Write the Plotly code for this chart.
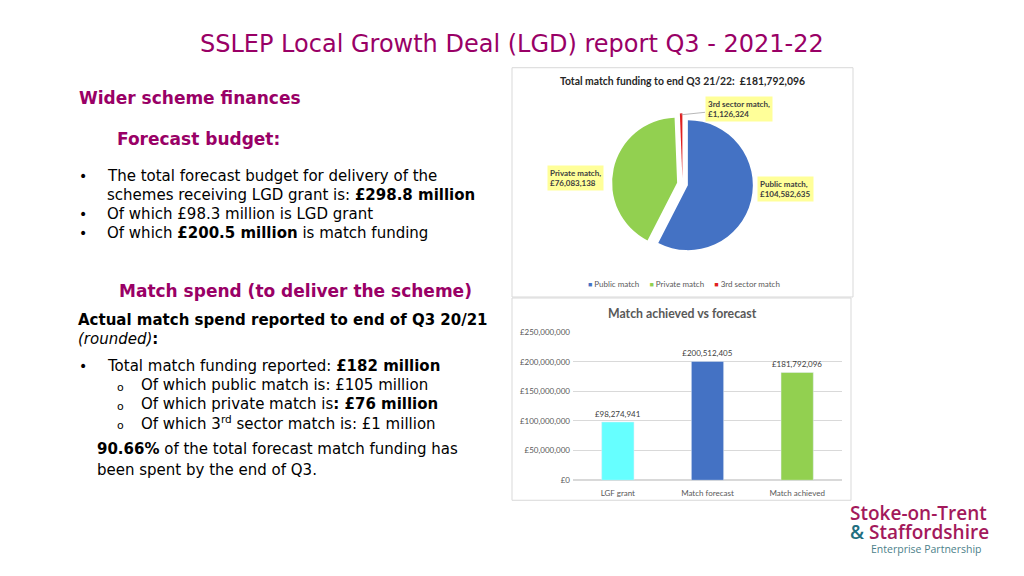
import plotly.graph_objects as go

# pie: match funding split
pie_labels = ["Public match", "Private match", "3rd sector match"]
pie_values = [104582635, 76083138, 1126324]
pie_colors = ["#4472C4", "#92D050", "#E02020"]

# bar: match achieved vs forecast
bar_cats = ["LGF grant", "Match forecast", "Match achieved"]
bar_values = [98274941, 200512405, 181792096]
bar_colors = ["#66FFFF", "#4472C4", "#92D050"]
bar_ticks = [0, 50000000, 100000000, 150000000, 200000000, 250000000]

W, H = 1024, 576
PURPLE = "#990066"
SLIDE_FONT = "DejaVu Sans"
CHART_FONT = "Lato"
Y_STRETCH = 1.019  # the captured page comes out slightly squashed vertically


def px(x):
    return x / W


def py(y):
    return 1 - (H / 2 + (y - H / 2) * Y_STRETCH) / H


fig = go.Figure()

fig.add_trace(go.Pie(
    labels=pie_labels, values=pie_values,
    marker=dict(colors=pie_colors),
    sort=False, direction="clockwise", rotation=0,
    pull=[0.085, 0.085, 0.085],
    textinfo="none", hoverinfo="label+value", showlegend=False,
    domain=dict(x=[px(612), px(753)], y=[py(254.5), py(113.5)]),
))

fig.add_trace(go.Bar(
    x=bar_cats, y=bar_values,
    marker_color=bar_colors,
    texttemplate="£%{y:,}", textposition="outside", constraintext="none",
    textfont=dict(size=8, color="#404040", family=CHART_FONT),
    cliponaxis=False, showlegend=False,
    xaxis="x", yaxis="y",
))

annots = []


def txt(x, y, s, size=15, color="black", anchor="left", family=SLIDE_FONT,
        weight=None):
    font = dict(size=size, color=color, family=family)
    if weight:
        font["weight"] = weight
    annots.append(dict(
        x=px(x), y=py(y), xref="paper", yref="paper", text=s,
        showarrow=False, xanchor=anchor, yanchor="middle", font=font,
    ))


# slide title
txt(512, 44, "SSLEP Local Growth Deal (LGD) report Q3 - 2021-22",
    size=24, color=PURPLE, anchor="center")

# left column
txt(77, 98, "<b>Wider scheme finances</b>", size=17, color=PURPLE)
txt(115, 139, "<b>Forecast budget:</b>", size=17, color=PURPLE)

for yy in [176, 214, 233]:
    txt(77, yy, "•", size=14)
txt(105, 176, "The total forecast budget for delivery of the")
txt(105, 195, "schemes receiving LGD grant is: <b>£298.8 million</b>")
txt(105, 214, "Of which £98.3 million is LGD grant")
txt(105, 233, "Of which <b>£200.5 million</b> is match funding")

txt(117, 291, "<b>Match spend (to deliver the scheme)</b>", size=17, color=PURPLE)
txt(76, 320, "<b>Actual match spend reported to end of Q3 20/21</b>")
txt(76, 339, "<i>(rounded)</i><b>:</b>")

txt(77, 366, "•", size=14)
txt(105, 366, "Total match funding reported: <b>£182 million</b>")
for yy in [385, 404, 423]:
    txt(115, yy + 2, "o", size=11)
txt(139, 385, "Of which public match is: £105 million")
txt(139, 404, "Of which private match is<b>: £76 million</b>")
txt(139, 423, "Of which 3<sup>rd</sup> sector match is: £1 million")

txt(95, 449, "<b>90.66%</b> of the total forecast match funding has")
txt(95, 470, "been spent by the end of Q3.")

# pie title, labels and legend
txt(682, 81, "<b>Total match funding to end Q3 21/22:  £181,792,096</b>",
    size=10.4, color="#262626", anchor="center", family=CHART_FONT)

box = dict(bgcolor="#FFFF99", borderpad=2, align="left",
           font=dict(size=8, color="#404040", family=CHART_FONT))
annots.append(dict(x=px(785), y=py(189), xref="paper", yref="paper",
                   text="<b>Public match,<br>£104,582,635</b>",
                   showarrow=False, xanchor="center", yanchor="middle", **box))
annots.append(dict(x=px(575), y=py(178), xref="paper", yref="paper",
                   text="<b>Private match,<br>£76,083,138</b>",
                   showarrow=False, xanchor="center", yanchor="middle", **box))
annots.append(dict(x=px(681.5), y=py(115), xref="paper", yref="paper",
                   text="<b>3rd sector match,<br>£1,126,324</b>",
                   showarrow=True, arrowhead=0, arrowwidth=0.8,
                   arrowcolor="#a6a6a6", ax=57, ay=-6,
                   xanchor="center", yanchor="middle", **box))

legend_text = "     ".join(
    f"<span style='color:{c};font-size:7px'>■</span> {lab}"
    for lab, c in zip(pie_labels, pie_colors)
)
txt(684, 284, legend_text, size=8, color="#595959", anchor="center",
    family=CHART_FONT)

# bar title
txt(682, 313, "<b>Match achieved vs forecast</b>", size=12.3, color="#595959",
    anchor="center", family=CHART_FONT)

# logo
txt(848, 513, "Stoke-on-Trent", size=19, color="#A3195B", family="Open Sans",
    weight=600)
txt(848, 532, "<span style='color:#1F6F80'>&</span> Staffordshire", size=19,
    color="#A3195B", family="Open Sans", weight=600)
txt(869, 549, "Enterprise Partnership", size=10.5, color="#4C7F8A",
    family="Open Sans")

# chart frames
shapes = [
    dict(type="rect", xref="paper", yref="paper",
         x0=px(512), x1=px(853), y0=py(297), y1=py(68),
         line=dict(color="#d9d9d9", width=1)),
    dict(type="rect", xref="paper", yref="paper",
         x0=px(512), x1=px(851), y0=py(500), y1=py(298),
         line=dict(color="#d9d9d9", width=1)),
]

fig.update_layout(
    width=W, height=H,
    margin=dict(l=0, r=0, t=0, b=0),
    paper_bgcolor="white", plot_bgcolor="white",
    annotations=annots, shapes=shapes,
    bargap=0.64, showlegend=False,
    xaxis=dict(domain=[px(573), px(842)], anchor="y",
               tickfont=dict(size=8, color="#595959", family=CHART_FONT),
               showline=False, showgrid=False, ticks="",
               ticklabelstandoff=7),
    yaxis=dict(domain=[py(480), py(332)], anchor="x",
               range=[0, 250000000], tickmode="array", tickvals=bar_ticks,
               ticktext=[f"£{v:,}" for v in bar_ticks],
               tickfont=dict(size=8, color="#595959", family=CHART_FONT),
               gridcolor="#d9d9d9", zerolinecolor="#d9d9d9", showline=False,
               ticklabelstandoff=2),
)

# pin the figure to the top-left corner so the page has no extra height
pin = (
    "document.body.style.margin='0';"
    "document.documentElement.style.overflow='hidden';"
    "var d=document.getElementById('{plot_id}');"
    "d.style.position='fixed';d.style.top='0';d.style.left='0';"
)
fig.write_html("out.html", config={"displayModeBar": False}, post_script=pin)
